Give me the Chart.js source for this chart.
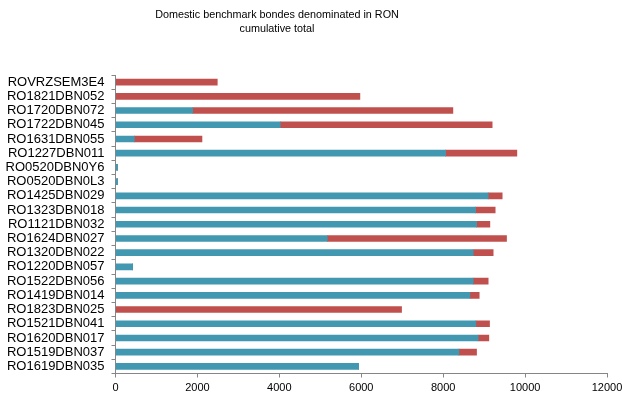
<!DOCTYPE html>
<html>
<head>
<meta charset="utf-8">
<script src="https://cdn.jsdelivr.net/npm/chart.js@4/dist/chart.umd.min.js"></script>
<style>
html,body{margin:0;padding:0;background:#fff;}
#wrap{width:622px;height:396px;position:relative;}
</style>
</head>
<body>
<div id="wrap"><canvas id="c" width="622" height="396"></canvas></div>
<script>
const titleLines = ["Domestic benchmark bondes denominated in RON", "cumulative total"];
const categories = ["ROVRZSEM3E4","RO1821DBN052","RO1720DBN072","RO1722DBN045","RO1631DBN055","RO1227DBN011","RO0520DBN0Y6","RO0520DBN0L3","RO1425DBN029","RO1323DBN018","RO1121DBN032","RO1624DBN027","RO1320DBN022","RO1220DBN057","RO1522DBN056","RO1419DBN014","RO1823DBN025","RO1521DBN041","RO1620DBN017","RO1519DBN037","RO1619DBN035"];
const firstPart  = [0, 0, 1884, 4022, 460, 8058, 50, 50, 9099, 8790, 8815, 5170, 8733, 419, 8733, 8652, 0, 8798, 8855, 8384, 5936];
const secondPart = [2485, 5967, 6353, 5174, 1651, 1741, 0, 0, 342, 480, 325, 4377, 488, 0, 366, 228, 6984, 334, 260, 431, 0];
const xTicks = [0, 2000, 4000, 6000, 8000, 10000, 12000];

const FONT = "'Liberation Sans', Arial, sans-serif";
const axisColor = '#868686';

const titlePlugin = {
  id: 'customTitle',
  afterDraw(chart) {
    const ctx = chart.ctx;
    ctx.save();
    ctx.fillStyle = '#000';
    ctx.font = "10.8px " + FONT;
    ctx.textAlign = 'center';
    ctx.textBaseline = 'middle';
    ctx.fillText(titleLines[0], 277, 15);
    ctx.fillText(titleLines[1], 277, 29);
    ctx.restore();
  }
};

new Chart(document.getElementById('c'), {
  type: 'bar',
  data: {
    labels: categories,
    datasets: [
      { data: firstPart, backgroundColor: '#4198b0', barThickness: 6, stack: 's' },
      { data: secondPart, backgroundColor: '#c0504d', barThickness: 6, stack: 's' }
    ]
  },
  options: {
    indexAxis: 'y',
    responsive: false,
    animation: false,
    devicePixelRatio: 1,
    layout: { padding: { top: 75, right: 0, left: 0, bottom: 0 } },
    plugins: { legend: { display: false }, title: { display: false }, tooltip: { enabled: false } },
    scales: {
      x: {
        stacked: true,
        min: 0, max: 12000,
        afterBuildTicks(scale) { scale.ticks = xTicks.map(v => ({ value: v })); },
        afterFit(scale) { scale.height = 22.5; scale.paddingRight = 15; scale.paddingLeft = 0; },
        ticks: { color: '#000', font: { family: FONT, size: 11 }, padding: 4, maxRotation: 0,
                 callback: (v) => String(v) },
        grid: { display: true, drawOnChartArea: false, drawTicks: true, tickLength: 4, color: axisColor },
        border: { display: true, color: axisColor }
      },
      y: {
        stacked: true,
        afterFit(scale) { scale.width = 115.5; },
        ticks: { color: '#000', font: { family: FONT, size: 13 }, padding: 7, autoSkip: false },
        grid: { display: true, drawOnChartArea: false, drawTicks: true, tickLength: 4, color: axisColor, offset: true },
        border: { display: true, color: axisColor }
      }
    }
  },
  plugins: [titlePlugin]
});
</script>
</body>
</html>
